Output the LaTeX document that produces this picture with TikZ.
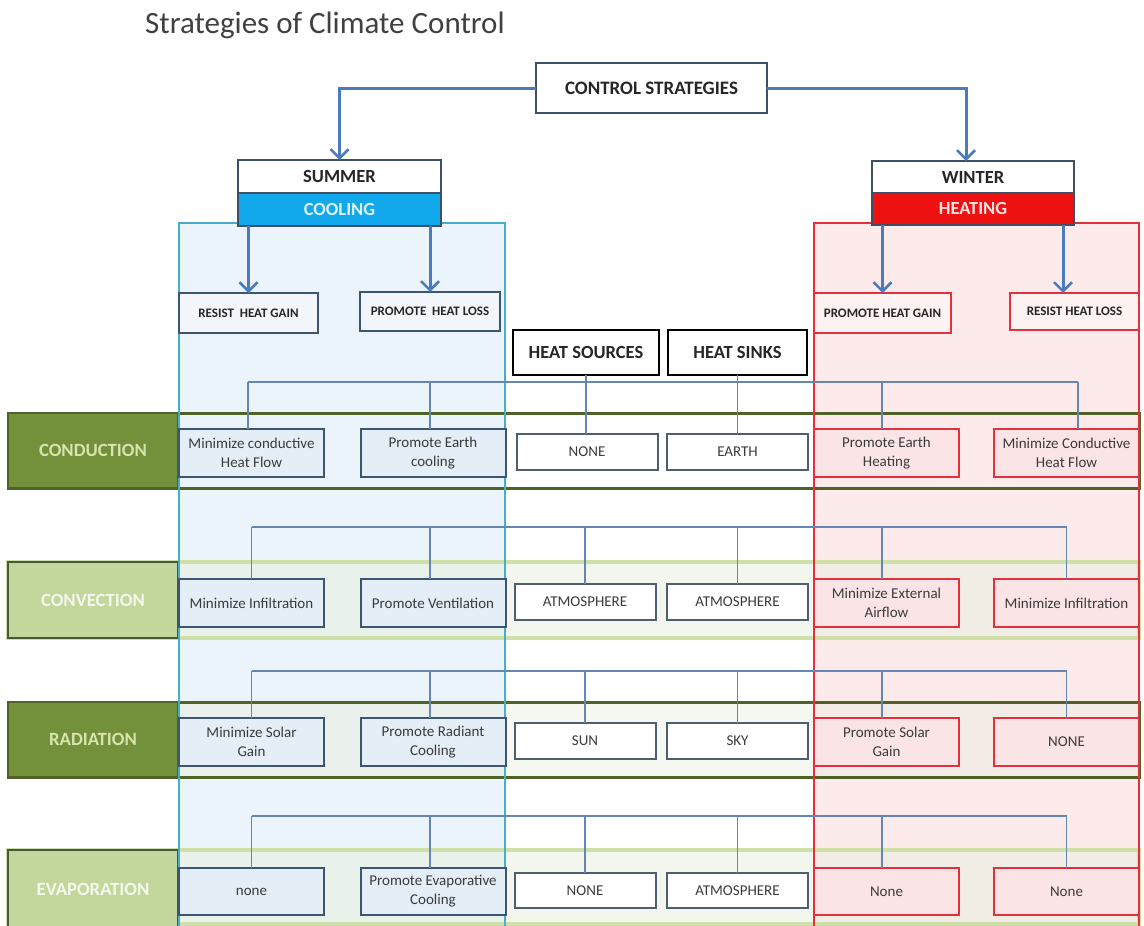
\documentclass[tikz,border=0pt]{standalone}
\usepackage{fontspec}
\setmainfont{Carlito}
\usetikzlibrary{arrows.meta}
\definecolor{busc}{HTML}{6585B5}
\definecolor{arrc}{HTML}{4A7CBD}
\definecolor{bluebd}{HTML}{3D5573}
\definecolor{bluebx}{HTML}{E4EEF7}
\definecolor{bluepn}{HTML}{EBF4FA}
\definecolor{bluepl}{HTML}{45AECB}
\definecolor{redbd}{HTML}{E2303D}
\definecolor{redbx}{HTML}{FBE4E5}
\definecolor{redpn}{HTML}{FDEBEC}
\definecolor{ctrbd}{HTML}{4D5E73}
\definecolor{darkg}{HTML}{73903A}
\definecolor{darkgl}{HTML}{4F6228}
\definecolor{lightg}{HTML}{C3D69B}
\definecolor{lightgl}{HTML}{CFDFA8}
\definecolor{labbd}{HTML}{4A5838}
\definecolor{darktx}{HTML}{D7E4AD}
\definecolor{lighttx}{HTML}{F4F8EC}
\definecolor{txt}{HTML}{3B3B3B}
\definecolor{hdtx}{HTML}{262626}
\definecolor{hdbd}{HTML}{3F4F66}
\definecolor{cool}{HTML}{12A8EC}
\definecolor{heat}{HTML}{EE1111}
\definecolor{cooltx}{HTML}{DCF1FC}
\definecolor{heattx}{HTML}{FFE0E0}
\definecolor{tint}{HTML}{E9EFDF}
\definecolor{titlec}{HTML}{404040}
\tikzset{
  bus/.style={draw=busc, line width=1.3pt},
  arr/.style={draw=arrc, line width=3pt, -{Straight Barb[length=9pt,width=18pt,line width=2.5pt]}},
  basebox/.style={inner sep=0pt, outer sep=0pt, align=center, text=txt, font=\fontsize{15}{19}\selectfont},
  bbox/.style={basebox, draw=bluebd, line width=2pt, fill=bluebx},
  rbox/.style={basebox, draw=redbd, line width=2.5pt, fill=redbx},
  cbox/.style={basebox, draw=ctrbd, line width=2pt, fill=white},
  sw/.style={minimum width=145pt, minimum height=48pt},
  cw/.style={minimum width=141pt, minimum height=36pt},
  hbox/.style={inner sep=0pt, outer sep=0pt, text=hdtx, font=\fontsize{13}{15}\selectfont\bfseries},
  bighd/.style={inner sep=0pt, outer sep=0pt, text=hdtx, font=\fontsize{18.5}{22}\selectfont\bfseries},
  lab/.style={inner sep=0pt, outer sep=0pt, minimum width=170pt, font=\fontsize{18.7}{22}\selectfont\bfseries},
  darkband/.style={draw=darkgl, line width=3pt},
  lightband/.style={draw=lightgl, line width=3.5pt},
}
\begin{document}
\begin{tikzpicture}[x=1pt,y=-1pt]
\useasboundingbox (0,0) rectangle (1144,926);

% title
\node[anchor=base west, inner sep=0pt, text=titlec, font=\fontsize{31}{36}\selectfont] (title) at (145,34) {Strategies of Climate Control};

% panels
\fill[bluepn] (179,223) rectangle (505,926);
\fill[redpn] (814,223) rectangle (1139,926);

% band tints
\fill[tint, fill opacity=0.55] (178,562) rectangle (1139,638);
\fill[tint, fill opacity=0.45] (178,702) rectangle (1139,777);
\fill[tint, fill opacity=0.55] (178,850) rectangle (1139,924);

% bands
\draw[darkband] (8,413) rectangle (1139,488);
\draw[lightband] (8,562) rectangle (1139,638);
\draw[darkband] (8,702) rectangle (1139,777);
\draw[lightband] (8,850) rectangle (1139,924);

% row labels
\node[lab, draw=darkgl, line width=2.5pt, fill=darkg, text=darktx, minimum height=75pt] (lcond) at (93,450.5) {CONDUCTION};
\node[lab, draw=labbd, line width=2.5pt, fill=lightg, text=lighttx, minimum height=76pt] (lconv) at (93,600) {CONVECTION};
\node[lab, draw=darkgl, line width=2.5pt, fill=darkg, text=darktx, minimum height=75pt] (lrad) at (93,739.5) {RADIATION};
\node[lab, draw=labbd, line width=2.5pt, fill=lightg, text=lighttx, minimum height=78pt] (levap) at (93,889) {EVAPORATION};

% panel borders
\draw[bluepl, line width=2pt] (179,927) -- (179,223) -- (505,223) -- (505,927);
\draw[redbd, line width=2pt] (814,927) -- (814,223) -- (1139,223) -- (1139,927);

% top headers
\node[bighd, draw=hdbd, line width=2pt, fill=white, minimum width=231pt, minimum height=50pt, font=\fontsize{19}{22}\selectfont\bfseries] (cs) at (651.5,88) {CONTROL STRATEGIES};
\node[bighd, draw=hdbd, line width=2pt, fill=cool, text=cooltx, minimum width=203pt, minimum height=33pt] (cooling) at (339.5,209.5) {COOLING};
\node[bighd, draw=hdbd, line width=2pt, fill=white, minimum width=203pt, minimum height=33pt] (summer) at (339.5,176.5) {SUMMER};
\node[bighd, draw=hdbd, line width=2pt, fill=heat, text=heattx, minimum width=202pt, minimum height=32pt] (heating) at (973,208.5) {HEATING};
\node[bighd, draw=hdbd, line width=2pt, fill=white, minimum width=202pt, minimum height=32pt] (winter) at (973,177) {WINTER};

\node[hbox, draw=bluebd, line width=2pt, fill=white!50!bluebx, minimum width=139pt, minimum height=40pt] (rhg) at (248.5,313) {RESIST\ \ HEAT GAIN};
\node[hbox, draw=bluebd, line width=2pt, fill=white!50!bluebx, minimum width=140pt, minimum height=39pt] (phl) at (430,311.5) {PROMOTE\ \ HEAT LOSS};
\node[hbox, draw=redbd, line width=2.5pt, fill=white!50!redbx, minimum width=137pt, minimum height=40pt] (phg) at (882.5,313) {PROMOTE HEAT GAIN};
\node[hbox, draw=redbd, line width=2.5pt, fill=white!50!redbx, minimum width=129pt, minimum height=37pt] (rhl) at (1074.5,311.5) {RESIST HEAT LOSS};

\node[bighd, draw=black, line width=2.5pt, fill=white, minimum width=146pt, minimum height=45pt] (hs) at (586,352.5) {HEAT SOURCES};
\node[bighd, draw=black, line width=2.5pt, fill=white, minimum width=139pt, minimum height=45pt] (hsk) at (737.5,352.5) {HEAT SINKS};

% header arrows
\coordinate (wtop) at ([xshift=-7pt]winter.north);
\coordinate (rltop) at ([xshift=-11.5pt]rhl.north);
\draw[arr] (cs.west) -| (summer.north);
\draw[arr] (cs.east) -| (wtop);
\draw[arr] (cooling.south -| rhg.north) -- (rhg.north);
\draw[arr] (cooling.south -| phl.north) -- (phl.north);
\draw[arr] (heating.south -| phg.north) -- (phg.north);
\draw[arr] (heating.south -| rltop) -- (rltop);

% ---------- row 1: conduction
\node[bbox, sw] (r1a) at (251.5,453) {Minimize conductive\\Heat Flow};
\node[bbox, sw] (r1b) at (433,453) {Promote Earth\\cooling};
\node[cbox, cw] (r1c) at (587,452) {NONE};
\node[cbox, cw] (r1d) at (737.5,452) {EARTH};
\node[rbox, sw] (r1e) at (886.5,453) {Promote Earth\\Heating};
\node[rbox, sw] (r1f) at (1066.5,453) {Minimize Conductive\\Heat Flow};

% ---------- row 2: convection
\node[bbox, sw] (r2a) at (251.5,603) {Minimize Infiltration};
\node[bbox, sw] (r2b) at (433,603) {Promote Ventilation};
\node[cbox, cw] (r2c) at (585,602) {ATMOSPHERE};
\node[cbox, cw] (r2d) at (737.5,602) {ATMOSPHERE};
\node[rbox, sw] (r2e) at (886.5,603) {Minimize External\\Airflow};
\node[rbox, sw] (r2f) at (1066.5,603) {Minimize Infiltration};

% ---------- row 3: radiation
\node[bbox, sw] (r3a) at (251.5,742) {Minimize Solar\\Gain};
\node[bbox, sw] (r3b) at (433,742) {Promote Radiant\\Cooling};
\node[cbox, cw] (r3c) at (585,740.5) {SUN};
\node[cbox, cw] (r3d) at (737.5,740.5) {SKY};
\node[rbox, sw] (r3e) at (886.5,742) {Promote Solar\\Gain};
\node[rbox, sw] (r3f) at (1066.5,742) {NONE};

% ---------- row 4: evaporation
\node[bbox, sw, minimum height=47pt] (r4a) at (251.5,891.5) {none};
\node[bbox, sw, minimum height=47pt] (r4b) at (433,891.5) {Promote Evaporative\\Cooling};
\node[cbox, cw, minimum height=35pt] (r4c) at (585,890.5) {NONE};
\node[cbox, cw, minimum height=35pt] (r4d) at (737.5,890.5) {ATMOSPHERE};
\node[rbox, sw, minimum height=47pt] (r4e) at (886.5,891.5) {None};
\node[rbox, sw, minimum height=47pt] (r4f) at (1066.5,891.5) {None};

% ---------- buses
\coordinate (b1) at (0,382);
\coordinate (b2) at (0,527);
\coordinate (b3) at (0,671);
\coordinate (b4) at (0,816);

% row 1
\coordinate (e1) at ([xshift=-4.5pt]r1e.north);
\coordinate (f1) at ([xshift=11.5pt]r1f.north);
\coordinate (a1) at ([xshift=-3.5pt]r1a.north);
\coordinate (g1) at ([xshift=-3pt]r1b.north);
\draw[bus] (a1 |- b1) -- (f1 |- b1);
\draw[bus] (a1 |- b1) -- (a1);
\draw[bus] (g1 |- b1) -- (g1);
\draw[bus] (hs.south) -- (hs.south |- r1c.north);
\draw[bus] (hsk.south) -- (r1d.north);
\draw[bus] (e1 |- b1) -- (e1);
\draw[bus] (f1 |- b1) -- (f1);

% rows 2-4
\foreach \rw in {2,3,4}{
  \coordinate (ea) at ([xshift=-4.5pt]r\rw e.north);
  \coordinate (gb) at ([xshift=-3pt]r\rw b.north);
  \coordinate (ct) at ([yshift=4pt]r\rw c.north);
  \coordinate (dt) at ([yshift=4pt]r\rw d.north);
  \draw[bus] (r\rw a.north |- b\rw) -- (r\rw f.north |- b\rw);
  \draw[bus] (r\rw a.north |- b\rw) -- (r\rw a.north);
  \draw[bus] (gb |- b\rw) -- (gb);
  \draw[bus] (r\rw c.north |- b\rw) -- (r\rw c.north);
  \draw[bus] (r\rw d.north |- b\rw) -- (r\rw d.north);
  \draw[bus] (ea |- b\rw) -- (ea);
  \draw[bus] (r\rw f.north |- b\rw) -- (r\rw f.north);
}
\end{tikzpicture}
\end{document}
